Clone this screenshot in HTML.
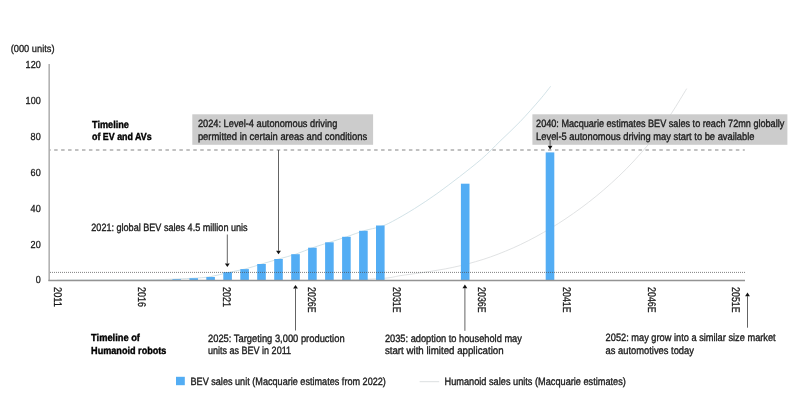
<!DOCTYPE html>
<html><head><meta charset="utf-8"><title>Timeline of EV and AVs vs Humanoid robots</title>
<style>
html,body{margin:0;padding:0;background:#fff;}
svg{display:block;}
text{font-family:"Liberation Sans",sans-serif;fill:#1c1c1c;text-rendering:geometricPrecision;}
.ax text{font-size:10.2px;fill:#1a1a1a;stroke:#1a1a1a;stroke-width:0.3px;}
.ax text.xl{font-size:11.2px;stroke-width:0.3px;}
.lb text.b{font-weight:bold;font-size:10.2px;fill:#000;stroke:#000;stroke-width:0.4px;}
.lb text{font-size:10.6px;stroke:#1c1c1c;stroke-width:0.36px;}
</style></head><body>
<svg width="797" height="403" viewBox="0 0 797 403">
<rect width="797" height="403" fill="#fff"/>
<path d="M57.0,280.2 C68.3,280.1 107.8,280.0 125.0,279.9 C142.2,279.8 148.6,279.9 160.0,279.6 C171.4,279.3 185.2,278.7 193.7,278.2 C202.1,277.7 205.0,277.5 210.7,276.6 C216.4,275.7 222.0,273.9 227.7,272.6 C233.4,271.4 239.0,270.5 244.7,269.1 C250.4,267.7 256.0,265.7 261.7,264.0 C267.4,262.3 273.0,260.6 278.7,259.0 C284.4,257.4 290.0,256.1 295.7,254.2 C301.4,252.3 307.0,249.7 312.7,247.7 C318.4,245.7 324.0,244.1 329.7,242.3 C335.4,240.5 341.0,238.7 346.7,236.8 C352.4,234.9 358.0,232.5 363.7,230.8 C369.4,229.1 375.9,228.2 380.7,226.6 C385.5,225.0 386.6,224.5 392.3,221.5 C398.0,218.5 407.2,213.2 414.7,208.5 C422.1,203.8 429.6,198.9 437.0,193.6 C444.4,188.3 451.9,182.6 459.4,176.8 C466.8,171.0 474.9,164.8 481.7,158.9 C488.5,153.0 493.6,147.4 500.0,141.2 C506.4,135.0 513.4,128.7 520.0,121.8 C526.6,114.9 534.5,105.9 539.6,100.0 C544.7,94.1 548.8,88.6 550.6,86.3" fill="none" stroke="#c6dbe1" stroke-width="0.8"/>
<path d="M300.0,280.3 C308.3,280.2 335.8,280.3 350.0,279.9 C364.2,279.5 376.7,278.9 385.0,278.2 C393.3,277.5 395.1,276.4 400.1,275.7 C405.1,274.9 410.1,274.3 415.2,273.6 C420.2,272.8 425.2,272.2 430.3,271.4 C435.3,270.6 440.3,269.8 445.3,268.9 C450.4,267.9 455.4,266.9 460.4,265.7 C465.5,264.5 470.5,263.2 475.5,261.7 C480.5,260.3 485.6,258.7 490.6,256.9 C495.6,255.1 500.7,253.2 505.7,251.1 C510.7,249.1 515.7,246.8 520.8,244.4 C525.8,242.0 530.8,239.5 535.9,236.7 C540.9,234.0 545.9,231.1 550.9,228.1 C556.0,225.1 561.0,221.9 566.0,218.5 C571.0,215.1 576.1,211.6 581.1,207.9 C586.1,204.2 591.2,200.3 596.2,196.2 C601.2,192.1 606.2,187.8 611.3,183.2 C616.3,178.7 621.3,173.9 626.4,168.8 C631.4,163.7 636.4,158.4 641.4,152.6 C646.5,146.9 651.5,140.8 656.5,134.2 C661.6,127.6 666.6,120.7 671.6,113.1 C676.6,105.5 684.2,92.7 686.7,88.6" fill="none" stroke="#dcdfe0" stroke-width="0.9"/>
<rect x="192.3" y="114.3" width="180.8" height="30.5" fill="#cccccc"/>
<rect x="532.4" y="114.3" width="255" height="30.5" fill="#cccccc"/>
<g fill="#53adf4">
<rect x="155.4" y="280.0" width="8.6" height="0.4"/>
<rect x="172.4" y="279.2" width="8.6" height="1.2"/>
<rect x="189.4" y="278.2" width="8.6" height="2.2"/>
<rect x="206.3" y="277.0" width="8.6" height="3.4"/>
<rect x="223.3" y="272.1" width="8.6" height="8.3"/>
<rect x="240.3" y="269.1" width="8.6" height="11.3"/>
<rect x="257.2" y="264.0" width="8.6" height="16.4"/>
<rect x="274.2" y="259.0" width="8.6" height="21.4"/>
<rect x="291.2" y="254.2" width="8.6" height="26.2"/>
<rect x="308.1" y="247.7" width="8.6" height="32.7"/>
<rect x="325.1" y="242.3" width="8.6" height="38.1"/>
<rect x="342.1" y="236.8" width="8.6" height="43.6"/>
<rect x="359.1" y="230.8" width="8.6" height="49.6"/>
<rect x="376.0" y="225.5" width="8.6" height="54.9"/>
<rect x="460.9" y="183.7" width="8.6" height="96.7"/>
<rect x="545.7" y="152.4" width="8.6" height="128.0"/>
</g>
<line x1="49.15" y1="64" x2="49.15" y2="281" stroke="#a0a0a0" stroke-width="1.3"/>
<line x1="48.4" y1="280.5" x2="745" y2="280.5" stroke="#939393" stroke-width="1.5"/>
<line x1="49.2" y1="150.05" x2="744.8" y2="150.05" stroke="#adadad" stroke-width="1.45" stroke-dasharray="3.5 3.456" stroke-dashoffset="2"/>
<line x1="50" y1="272.4" x2="745" y2="272.4" stroke="#4a4a4a" stroke-width="0.7" stroke-dasharray="1 1"/>
<line x1="227.3" y1="234.5" x2="227.3" y2="263.4" stroke="#484848" stroke-width="0.85"/><polygon points="224.9,263.4 229.7,263.4 227.3,267.0" fill="#111"/>
<line x1="278.5" y1="150" x2="278.5" y2="250.7" stroke="#484848" stroke-width="0.85"/><polygon points="276.1,250.7 280.9,250.7 278.5,254.3" fill="#111"/>
<line x1="295.5" y1="330.5" x2="295.5" y2="288.5" stroke="#484848" stroke-width="0.85"/><polygon points="293.1,288.5 297.9,288.5 295.5,284.9" fill="#111"/>
<line x1="464.9" y1="330.8" x2="464.9" y2="288.2" stroke="#484848" stroke-width="0.85"/><polygon points="462.5,288.2 467.3,288.2 464.9,284.6" fill="#111"/>
<line x1="550.1" y1="140" x2="550.1" y2="145.8" stroke="#484848" stroke-width="0.85"/><polygon points="547.7,145.8 552.5,145.8 550.1,149.4" fill="#111"/>
<line x1="747.5" y1="327.7" x2="747.5" y2="296.2" stroke="#484848" stroke-width="0.85"/><polygon points="745.1,296.2 749.9,296.2 747.5,292.6" fill="#111"/>

<g class="ax">
<text x="10.7" y="52.1" style="font-size:10.1px" textLength="43.9" lengthAdjust="spacingAndGlyphs">(000 units)</text>
<text x="35.7" y="283.2" textLength="5.0" lengthAdjust="spacingAndGlyphs">0</text>
<text x="30.6" y="247.8" textLength="10.1" lengthAdjust="spacingAndGlyphs">20</text>
<text x="30.6" y="211.8" textLength="10.1" lengthAdjust="spacingAndGlyphs">40</text>
<text x="30.6" y="175.8" textLength="10.1" lengthAdjust="spacingAndGlyphs">60</text>
<text x="30.6" y="139.8" textLength="10.1" lengthAdjust="spacingAndGlyphs">80</text>
<text x="25.6" y="103.8" textLength="15.1" lengthAdjust="spacingAndGlyphs">100</text>
<text x="25.6" y="67.8" textLength="15.1" lengthAdjust="spacingAndGlyphs">120</text>
<text class="xl" transform="translate(53.5,287.1) rotate(90)" textLength="19.8" lengthAdjust="spacingAndGlyphs">2011</text>
<text class="xl" transform="translate(138.4,287.1) rotate(90)" textLength="19.8" lengthAdjust="spacingAndGlyphs">2016</text>
<text class="xl" transform="translate(223.2,287.1) rotate(90)" textLength="19.8" lengthAdjust="spacingAndGlyphs">2021</text>
<text class="xl" transform="translate(308.1,287.1) rotate(90)" textLength="25.5" lengthAdjust="spacingAndGlyphs">2026E</text>
<text class="xl" transform="translate(392.9,287.1) rotate(90)" textLength="25.5" lengthAdjust="spacingAndGlyphs">2031E</text>
<text class="xl" transform="translate(477.8,287.1) rotate(90)" textLength="25.5" lengthAdjust="spacingAndGlyphs">2036E</text>
<text class="xl" transform="translate(562.7,287.1) rotate(90)" textLength="25.5" lengthAdjust="spacingAndGlyphs">2041E</text>
<text class="xl" transform="translate(647.5,287.1) rotate(90)" textLength="25.5" lengthAdjust="spacingAndGlyphs">2046E</text>
<text class="xl" transform="translate(732.4,287.1) rotate(90)" textLength="25.5" lengthAdjust="spacingAndGlyphs">2051E</text>
</g>
<g class="lb">
<text x="197.9" y="127.3" textLength="139.4" lengthAdjust="spacingAndGlyphs">2024: Level-4 autonomous driving</text>
<text x="197.9" y="139.8" textLength="169.2" lengthAdjust="spacingAndGlyphs">permitted in certain areas and conditions</text>
<text x="536.1" y="127.4" textLength="248.2" lengthAdjust="spacingAndGlyphs">2040: Macquarie estimates BEV sales to reach 72mn globally</text>
<text x="536.1" y="139.9" textLength="218.4" lengthAdjust="spacingAndGlyphs">Level-5 autonomous driving may start to be available</text>
<text x="92" y="127.6" textLength="36.9" lengthAdjust="spacingAndGlyphs" class="b">Timeline</text>
<text x="92" y="139.6" textLength="59.7" lengthAdjust="spacingAndGlyphs" class="b">of EV and AVs</text>
<text x="91.3" y="230.5" textLength="156.3" lengthAdjust="spacingAndGlyphs">2021: global BEV sales 4.5 million unis</text>
<text x="91.1" y="341.2" textLength="48.8" lengthAdjust="spacingAndGlyphs" class="b">Timeline of</text>
<text x="91.1" y="353.6" textLength="75.3" lengthAdjust="spacingAndGlyphs" class="b">Humanoid robots</text>
<text x="208" y="341.5" textLength="136.6" lengthAdjust="spacingAndGlyphs">2025: Targeting 3,000 production</text>
<text x="208" y="353.6" textLength="83" lengthAdjust="spacingAndGlyphs">units as BEV in 2011</text>
<text x="384.9" y="341.5" textLength="137" lengthAdjust="spacingAndGlyphs">2035: adoption to household may</text>
<text x="384.9" y="353.7" textLength="118.7" lengthAdjust="spacingAndGlyphs">start with limited application</text>
<text x="605.6" y="341.4" textLength="170.1" lengthAdjust="spacingAndGlyphs">2052: may grow into a similar size market</text>
<text x="605.6" y="353.6" textLength="88.3" lengthAdjust="spacingAndGlyphs">as automotives today</text>
<text x="190.5" y="385.4" textLength="195.4" lengthAdjust="spacingAndGlyphs">BEV sales unit (Macquarie estimates from 2022)</text>
<text x="444.6" y="385.4" textLength="181.3" lengthAdjust="spacingAndGlyphs">Humanoid sales units (Macquarie estimates)</text>
</g>
<rect x="176" y="376.8" width="8.8" height="8.4" fill="#53adf4"/>
<line x1="419.6" y1="381.7" x2="439.2" y2="381.7" stroke="#dcdfe0" stroke-width="1"/>
</svg>
</body></html>
